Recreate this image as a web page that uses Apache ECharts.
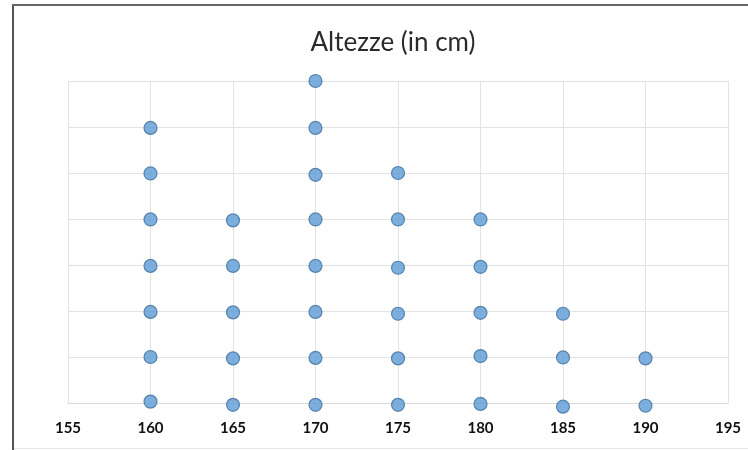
<!DOCTYPE html>
<html><head><meta charset="utf-8">
<script src="https://cdn.jsdelivr.net/npm/echarts@6/dist/echarts.min.js"></script>
<style>html,body{margin:0;padding:0;background:#fff;}#c{width:748px;height:450px;}</style>
</head><body><div id="c"></div>
<script>
const title = "Altezze (in cm)";
const xTicks = [155, 160, 165, 170, 175, 180, 185, 190, 195];
const heights = [160, 165, 170, 175, 180, 185, 190];
const col160 = [0.03, 1.0, 1.98, 2.98, 3.99, 4.99, 5.98];
const col165 = [-0.04, 0.97, 1.97, 2.98, 3.97];
const col170 = [-0.04, 0.98, 1.98, 2.98, 3.99, 4.96, 5.98, 7.0];
const col175 = [-0.04, 0.97, 1.94, 2.94, 3.99, 5.0];
const col180 = [-0.02, 1.02, 1.96, 2.96, 3.99];
const col185 = [-0.08, 0.99, 1.94];
const col190 = [-0.06, 0.97];
const columns = [col160, col165, col170, col175, col180, col185, col190];

const points = [];
heights.forEach((h, i) => columns[i].forEach(v => points.push([h, v])));

const chart = echarts.init(document.getElementById('c'), null, {renderer: 'canvas'});
chart.setOption({
  backgroundColor: '#fff',
  animation: false,
  title: {
    text: title, left: 388, top: 25, textAlign: 'center',
    textStyle: {fontFamily: 'Lato', fontSize: 26, fontWeight: 'normal', color: '#2b2b2b'}
  },
  grid: {left: 68, right: 20, top: 81, bottom: 47, containLabel: false},
  xAxis: {
    type: 'value', min: xTicks[0], max: xTicks[xTicks.length - 1], interval: 5,
    axisLine: {show: true, lineStyle: {color: '#d9d9d9', width: 1}},
    axisTick: {show: false},
    axisLabel: {margin: 18, fontFamily: 'Lato', fontSize: 15, fontWeight: 'bold', color: '#111', showMinLabel: true, showMaxLabel: true},
    splitLine: {show: true, lineStyle: {color: '#e3e3e3', width: 1}}
  },
  yAxis: {
    type: 'value', min: 0, max: 7, interval: 1,
    axisLine: {show: false}, axisTick: {show: false}, axisLabel: {show: false},
    splitLine: {show: true, lineStyle: {color: '#e3e3e3', width: 1}}
  },
  series: [{
    type: 'scatter', data: points, symbol: 'circle', symbolSize: 13, clip: false,
    itemStyle: {color: '#5b9bd5', borderColor: '#3f6f9e', borderWidth: 1.2}
  }],
  graphic: [
    {type: 'rect', shape: {x: 12, y: 4, width: 2, height: 446}, style: {fill: '#555'}, silent: true},
    {type: 'rect', shape: {x: 12, y: 4, width: 736, height: 2}, style: {fill: '#666'}, silent: true},
    {type: 'rect', shape: {x: 14, y: 448, width: 734, height: 1}, style: {fill: '#e6e6e6'}, silent: true}
  ]
});
</script></body></html>
